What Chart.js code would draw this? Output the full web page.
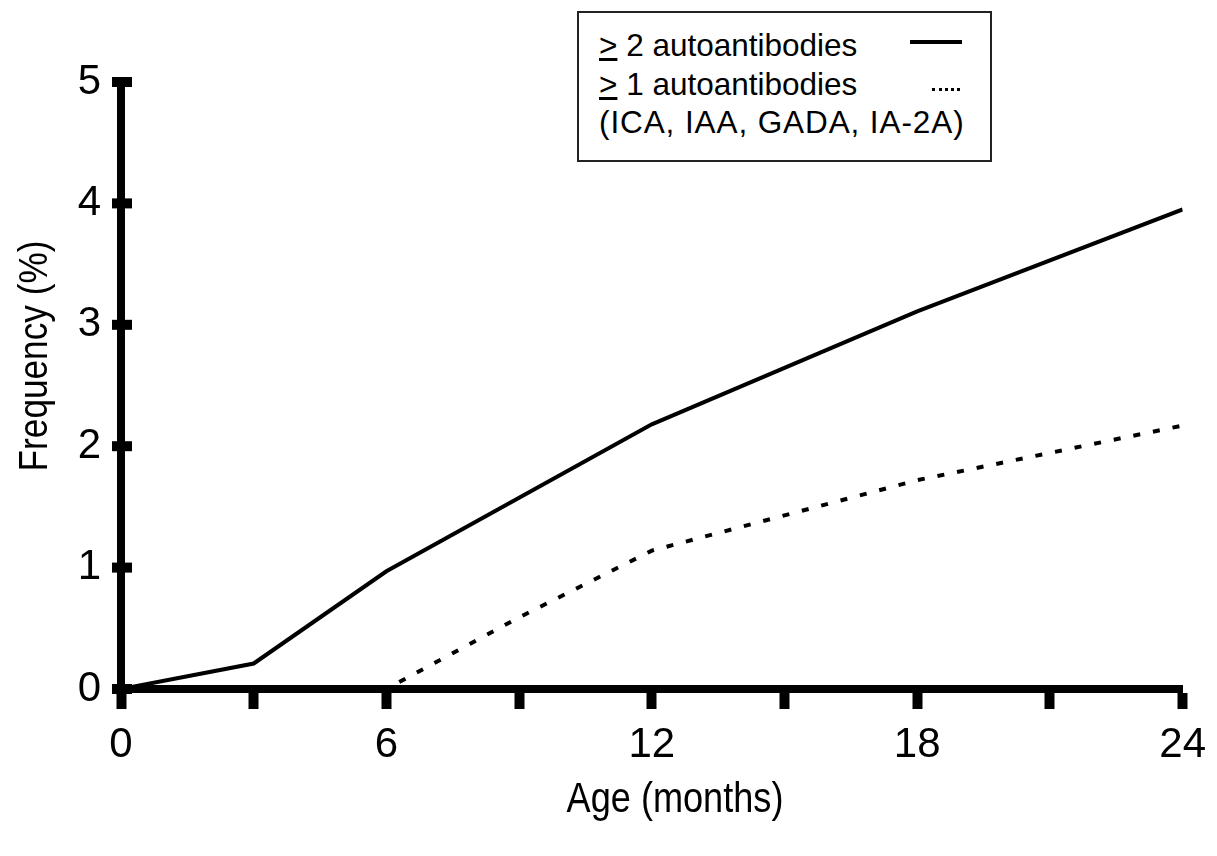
<!DOCTYPE html>
<html>
<head>
<meta charset="utf-8">
<script src="https://cdn.jsdelivr.net/npm/chart.js@4"></script>
<style>
  body { margin: 0; background: #fff; }
  #wrap { position: relative; width: 1217px; height: 856px; }
  #legend {
    position: absolute; left: 577px; top: 11px; width: 411px; height: 147px;
    border: 2px solid #222; background: #fff;
    font-family: 'Liberation Sans', Arial, sans-serif; font-size: 31.5px; line-height: 39px; color: #000;
  }
  #legend .row { position: absolute; left: 20px; white-space: nowrap; }
  #legend .solid { position: absolute; left: 331px; top: 27px; width: 52px; height: 4px; background: #000; }
  #legend .dots { position: absolute; left: 353px; top: 75px; width: 28px; border-top: 3px dotted #000; }
</style>
</head>
<body>
<div id="wrap">
  <canvas id="freqChart"></canvas>
  <div id="legend">
    <div class="row" style="top:13px"><u>&gt;</u> 2 autoantibodies</div>
    <div class="solid"></div>
    <div class="row" style="top:52px"><u>&gt;</u> 1 autoantibodies</div>
    <div class="dots"></div>
    <div class="row" style="top:90px; letter-spacing:0.9px">(ICA, IAA, GADA, IA-2A)</div>
  </div>
</div>
<script>
// ages in months and frequency (%)
var ageTwo = [0, 3, 6, 12, 18, 24];
var freqTwo = [0, 0.21, 0.97, 2.18, 3.11, 3.95];
var ageOne = [0, 3, 6, 9, 12, 18, 24];
var freqOne = [0, 0, 0, 0.59, 1.14, 1.72, 2.17];
var xLabels = [0, 6, 12, 18, 24];
var yLabels = [0, 1, 2, 3, 4, 5];

function toPoints(xs, ys) {
  return xs.map(function (x, i) { return { x: x, y: ys[i] }; });
}

var font = 'Liberation Sans, Arial, sans-serif';

// y ticks in the figure cross the axis on both sides
var crossTicks = {
  id: 'crossTicks',
  afterDraw: function (chart) {
    var ctx = chart.ctx, y = chart.scales.y, x0 = chart.scales.x.left;
    ctx.save();
    ctx.fillStyle = '#000';
    y.ticks.forEach(function (t, i) {
      var py = y.getPixelForTick(i);
      ctx.fillRect(x0 - 9, py - 5, 20, 10);
    });
    ctx.restore();
  }
};

// axis titles, both set a bit squeezed in the original
var axisTitles = {
  id: 'axisTitles',
  afterDraw: function (chart) {
    var ctx = chart.ctx;
    ctx.save();
    ctx.fillStyle = '#000';
    ctx.textAlign = 'center';
    ctx.textBaseline = 'middle';

    ctx.save();
    ctx.translate(675, 800);
    ctx.scale(0.86, 1);
    ctx.font = '42px ' + font;
    ctx.fillText('Age (months)', 0, 0);
    ctx.restore();

    ctx.save();
    ctx.translate(36, 356);
    ctx.rotate(-Math.PI / 2);
    ctx.scale(0.88, 1);
    ctx.font = '40px ' + font;
    ctx.fillText('Frequency (%)', 0, 0);
    ctx.restore();

    ctx.restore();
  }
};

new Chart(document.getElementById('freqChart'), {
  type: 'line',
  data: {
    datasets: [{
      label: '≥ 2 autoantibodies',
      data: toPoints(ageTwo, freqTwo),
      borderColor: '#000',
      borderWidth: 4,
      pointRadius: 0,
      tension: 0
    }, {
      label: '≥ 1 autoantibodies',
      data: toPoints(ageOne, freqOne),
      borderColor: '#000',
      borderWidth: 4,
      borderDash: [7, 13],
      pointRadius: 0,
      tension: 0
    }]
  },
  options: {
    responsive: true,
    maintainAspectRatio: false,
    animation: false,
    layout: { padding: { top: 82, right: 33, left: 0, bottom: 0 } },
    plugins: { legend: { display: false }, tooltip: { enabled: false } },
    scales: {
      x: {
        type: 'linear', min: 0, max: 24,
        afterFit: function (s) { s.height = 167; },
        ticks: {
          stepSize: 3, padding: 11, color: '#000', maxRotation: 0,
          font: { family: font, size: 42 },
          callback: function (v) { return xLabels.indexOf(v) >= 0 ? String(v) : ''; }
        },
        grid: { drawOnChartArea: false, tickLength: 20, tickWidth: 10, tickColor: '#000' },
        border: { color: '#000', width: 8, z: 1 },
        title: { display: false }
      },
      y: {
        min: 0, max: 5,
        afterFit: function (s) { s.width = 121; },
        ticks: {
          stepSize: 1, padding: 8, color: '#000',
          font: { family: font, size: 42 },
          callback: function (v) { return yLabels.indexOf(v) >= 0 ? String(v) : ''; }
        },
        grid: { drawOnChartArea: false, tickLength: 12, tickColor: 'rgba(0,0,0,0)' },
        border: { color: '#000', width: 8, z: 1 },
        title: { display: false }
      }
    }
  },
  plugins: [crossTicks, axisTitles]
});
</script>
</body>
</html>
